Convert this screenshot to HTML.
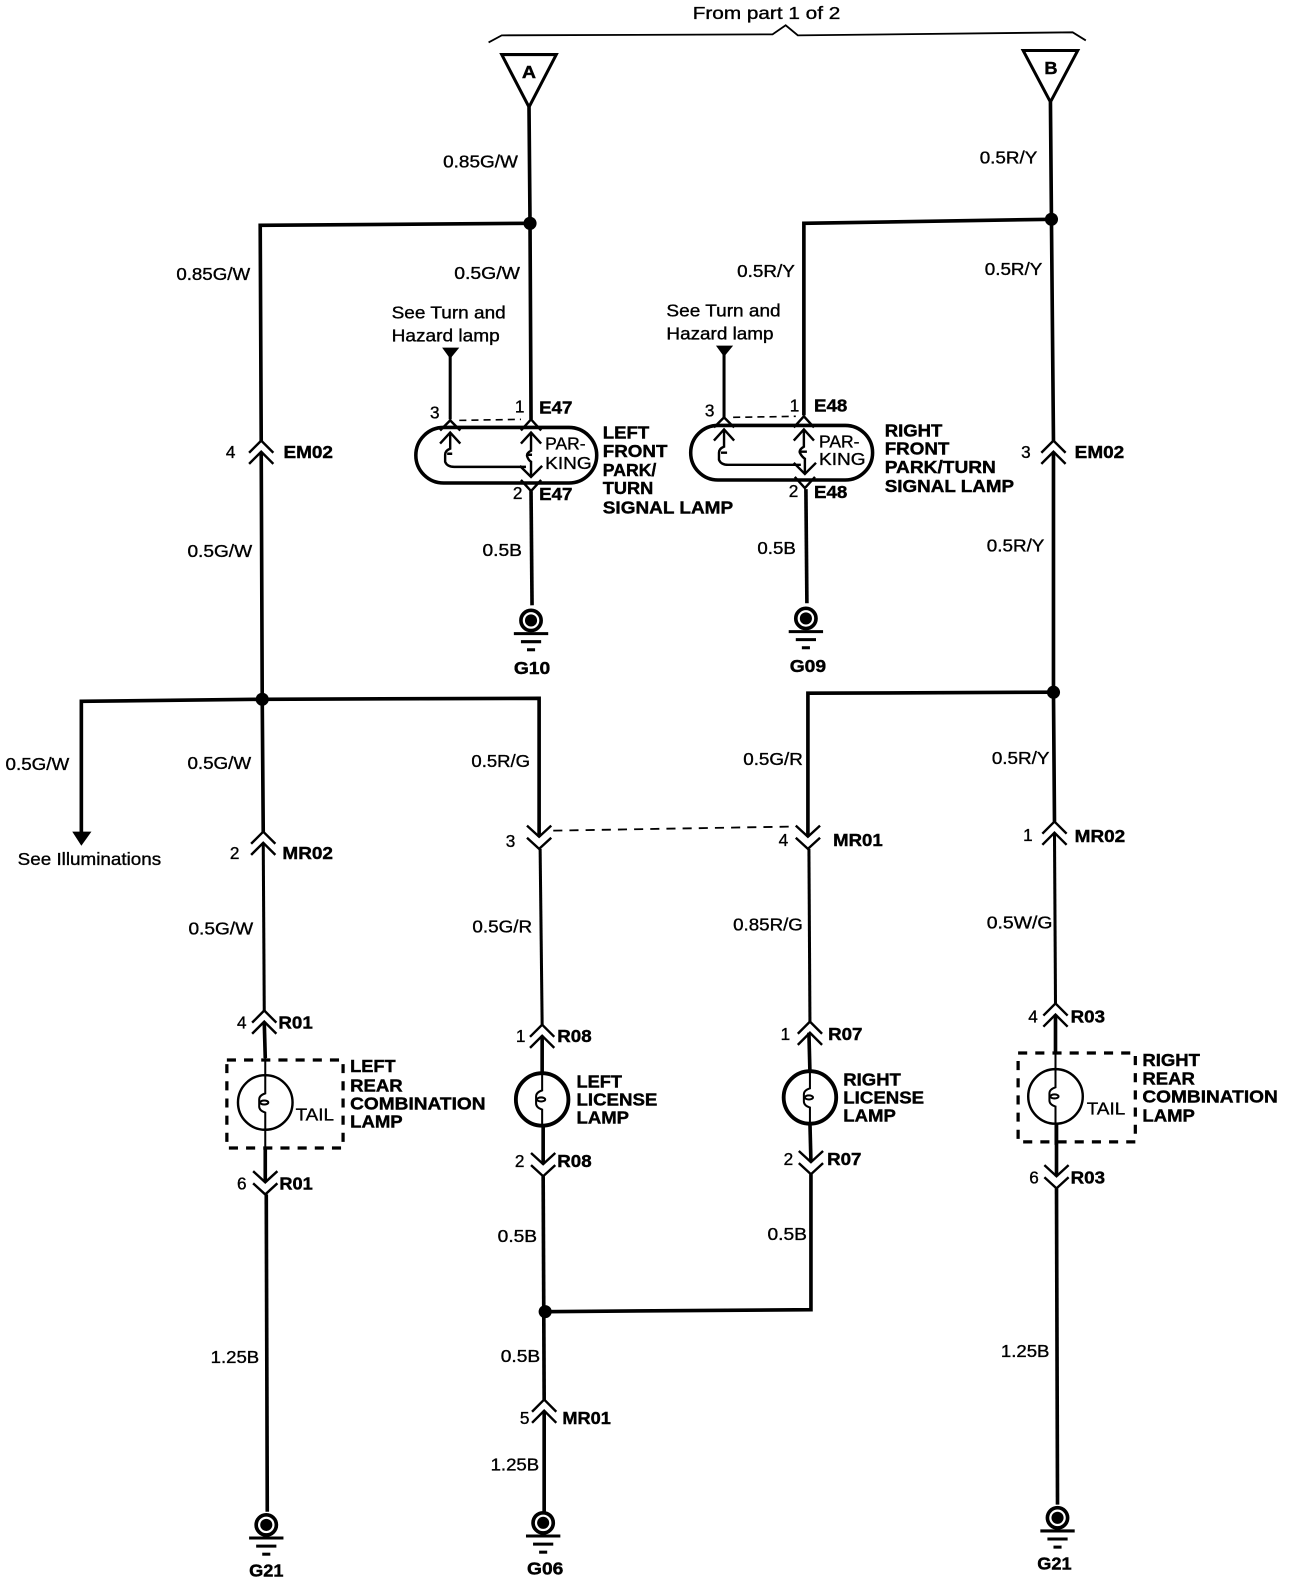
<!DOCTYPE html>
<html><head><meta charset="utf-8"><style>
html,body{margin:0;padding:0;background:#fff}
svg{display:block}
text{font-family:"Liberation Sans",sans-serif;fill:#000}
.r{font-size:17px;stroke:#000;stroke-width:.35px}
.b{font-size:17px;font-weight:bold;stroke:#000;stroke-width:.4px}
.w{fill:none;stroke:#000;stroke-width:3.6;stroke-linecap:butt;stroke-linejoin:miter}
.t{fill:none;stroke:#000;stroke-width:3}
.c{fill:none;stroke:#000;stroke-width:2.4}
</style></head><body>
<svg width="1296" height="1584" viewBox="0.5 1 1282.5 1567.5" xmlns="http://www.w3.org/2000/svg">
<defs>
<g id="up"><path class="c" d="M-12,10 L0,-2 L12,10 M-12,21 L0,9 L12,21"/></g>
<g id="dn"><path class="c" d="M-12,-8 L0,3 L12,-8 M-12,4 L0,15 L12,4"/></g>
<g id="gnd"><circle r="10" fill="none" stroke="#000" stroke-width="3.6"/><circle r="6" fill="#000"/>
<path d="M-17,13 H17 M-10,21 H10" stroke="#000" stroke-width="3" fill="none"/><path d="M-4,29 H4" stroke="#000" stroke-width="3"/></g>
<g id="fil"><path d="M0,-27 V-9 Q-6,-7 -6,-3 V4 Q-6,8 0,10 V27" fill="none" stroke="#000" stroke-width="2"/><ellipse cx="-1" cy="0" rx="4" ry="2" fill="none" stroke="#000" stroke-width="2"/></g>
</defs>

<!-- bracket -->
<path d="M484,43 L497,36 L765,35 L778,26 L790,36 L1062,33 L1075,41" fill="none" stroke="#000" stroke-width="1.8"/>
<text class="r" x="686" y="20" textLength="146" lengthAdjust="spacingAndGlyphs">From part 1 of 2</text>

<!-- triangles -->
<path d="M497,55 H551 L524,107 Z" fill="#fff" stroke="#000" stroke-width="3"/>
<path d="M1013,51 H1067 L1040,102 Z" fill="#fff" stroke="#000" stroke-width="3"/>
<text class="b" x="517" y="78" textLength="14" lengthAdjust="spacingAndGlyphs">A</text>
<text class="b" x="1034" y="74" textLength="13" lengthAdjust="spacingAndGlyphs">B</text>

<!-- wires left -->
<path class="w" d="M524,107 L525,222 L526,416"/>
<path class="w" d="M525,222 L258,224 L259,438"/>
<path class="w" d="M259,448 L260,693 L261,825"/>
<path class="w" d="M260,693 L81,695 L81,825"/>
<path d="M72,824 H91 L81,838 Z" fill="#000"/>
<path class="w" d="M260,693 L534,692 L534,829"/>
<path class="t" d="M261,835 L262,1001"/>
<path class="w" d="M262,1012 L263,1048"/>
<path class="w" d="M263,1138 V1171"/>
<path class="w" d="M264,1183 L265,1497"/>

<!-- middle -->
<path class="t" d="M535,841 L537,1015"/>
<path class="w" d="M537,1026 V1064"/>
<path class="w" d="M538,1114 V1153"/>
<path class="w" d="M538,1165 L539,1386"/>
<path class="w" d="M539,1397 V1497"/>
<path class="w" d="M540,1299 L803,1297 L803,1163"/>
<path class="w" d="M802,1112 L803,1151"/>
<path class="w" d="M801,1023 L802,1062"/>
<path class="t" d="M801,841 L802,1012"/>
<path class="w" d="M1043,686 L800,687 L800,829"/>

<!-- wires right -->
<path class="w" d="M1040,102 L1041,218 L1043,437"/>
<path class="w" d="M1041,218 L796,222 L796,412"/>
<path class="w" d="M1043,448 V686 L1044,814"/>
<path class="t" d="M1044,825 L1045,994"/>
<path class="w" d="M1045,1005 V1042"/>
<path class="w" d="M1046,1112 V1165"/>
<path class="w" d="M1046,1177 L1047,1490"/>

<!-- nodes -->
<circle cx="525" cy="222" r="6.5"/><circle cx="1041" cy="218" r="6.5"/>
<circle cx="260" cy="693" r="6.5"/><circle cx="1043" cy="686" r="6.5"/>
<circle cx="540" cy="1299" r="6.5"/>

<!-- connectors -->
<use href="#up" x="259" y="439"/><use href="#up" x="1043" y="439"/>
<use href="#up" x="261" y="826"/><use href="#up" x="1044" y="816"/>
<use href="#dn" x="534" y="826"/><use href="#dn" x="800" y="826"/>
<use href="#up" x="262" y="1003"/><use href="#up" x="537" y="1017"/>
<use href="#up" x="802" y="1014"/><use href="#up" x="1045" y="996"/>
<use href="#dn" x="263" y="1168"/><use href="#dn" x="538" y="1150"/>
<use href="#dn" x="803" y="1148"/><use href="#dn" x="1046" y="1162"/>
<use href="#up" x="539" y="1388"/>
<path d="M548,823 L782,819" fill="none" stroke="#000" stroke-width="1.8" stroke-dasharray="9,7"/>

<!-- left park lamp -->
<rect x="412" y="424" width="179" height="55" rx="27.5" fill="none" stroke="#000" stroke-width="3.5"/>
<path class="w" style="stroke-width:3" d="M446,348 V416"/>
<path d="M438,345 H455 L446,356 Z"/>
<path d="M455,417 L516,416" fill="none" stroke="#000" stroke-width="1.6" stroke-dasharray="7,5"/>
<path class="c" d="M436,427 L446,417 L456,427 M436,440 L446,429 L456,440 M516,427 L526,416 L536,427 M516,440 L526,429 L536,440"/>
<path class="c" d="M446,430 V445 Q441,447 441,451 V458 Q443,463 450,463 H521 M526,430 V447 Q522,449 522,452 Q523,456 526,458 V472 M443,450 H448 M521,451 H527"/>
<path class="c" d="M515,462 L526,473 L537,462 M516,476 L526,487 L536,476"/>
<path class="w" d="M526,487 L527,600"/>
<use href="#gnd" x="526" y="615"/>

<!-- right park lamp -->
<rect x="684" y="422" width="180" height="54" rx="27" fill="none" stroke="#000" stroke-width="3.5"/>
<path class="w" style="stroke-width:3" d="M717,346 V414"/>
<path d="M709,343 H726 L717,354 Z"/>
<path d="M726,414 L788,413" fill="none" stroke="#000" stroke-width="1.6" stroke-dasharray="7,5"/>
<path class="c" d="M707,424 L717,414 L727,424 M707,437 L717,426 L727,437 M786,424 L796,413 L806,424 M786,437 L796,426 L806,437"/>
<path class="c" d="M717,427 V443 Q712,445 712,449 V456 Q714,461 721,461 H793 M796,427 V443 Q791,446 792,449 Q794,453 797,455 V470 M714,449 H720 M792,448 H799"/>
<path class="c" d="M786,459 L797,470 L808,459 M787,473 L797,484 L807,473"/>
<path class="w" d="M798,485 L799,598"/>
<use href="#gnd" x="798" y="613"/>

<!-- rear and license lamps -->
<rect x="225" y="1050" width="115" height="87" fill="none" stroke="#000" stroke-width="3.2" stroke-dasharray="9,8"/>
<circle cx="263" cy="1092" r="27" fill="#fff" stroke="#000" stroke-width="2.4"/><use href="#fil" x="263" y="1092"/>
<path d="M263,1048 V1066 M263,1118 V1140" stroke="#000" stroke-width="2"/>
<rect x="1008" y="1043" width="116" height="88" fill="none" stroke="#000" stroke-width="3.2" stroke-dasharray="9,8"/>
<circle cx="1045" cy="1086" r="27" fill="#fff" stroke="#000" stroke-width="2.4"/><use href="#fil" x="1045" y="1086"/>
<path d="M1045,1042 V1060 M1045,1112 V1134" stroke="#000" stroke-width="2"/>
<circle cx="537" cy="1089" r="26" fill="#fff" stroke="#000" stroke-width="3.8"/><use href="#fil" x="537" y="1089"/>
<circle cx="802" cy="1087" r="26" fill="#fff" stroke="#000" stroke-width="3.8"/><use href="#fil" x="802" y="1087"/>

<use href="#gnd" x="264" y="1510"/><use href="#gnd" x="538" y="1508"/><use href="#gnd" x="1047" y="1503"/>

<!-- regular labels -->
<text class="r" x="439" y="167" textLength="74" lengthAdjust="spacingAndGlyphs">0.85G/W</text>
<text class="r" x="175" y="278" textLength="73" lengthAdjust="spacingAndGlyphs">0.85G/W</text>
<text class="r" x="450" y="277" textLength="65" lengthAdjust="spacingAndGlyphs">0.5G/W</text>
<text class="r" x="730" y="275" textLength="57" lengthAdjust="spacingAndGlyphs">0.5R/Y</text>
<text class="r" x="970" y="163" textLength="57" lengthAdjust="spacingAndGlyphs">0.5R/Y</text>
<text class="r" x="975" y="273" textLength="57" lengthAdjust="spacingAndGlyphs">0.5R/Y</text>
<text class="r" x="186" y="552" textLength="64" lengthAdjust="spacingAndGlyphs">0.5G/W</text>
<text class="r" x="478" y="551" textLength="39" lengthAdjust="spacingAndGlyphs">0.5B</text>
<text class="r" x="750" y="549" textLength="38" lengthAdjust="spacingAndGlyphs">0.5B</text>
<text class="r" x="977" y="547" textLength="57" lengthAdjust="spacingAndGlyphs">0.5R/Y</text>
<text class="r" x="6" y="763" textLength="63" lengthAdjust="spacingAndGlyphs">0.5G/W</text>
<text class="r" x="186" y="762" textLength="63" lengthAdjust="spacingAndGlyphs">0.5G/W</text>
<text class="r" x="467" y="760" textLength="58" lengthAdjust="spacingAndGlyphs">0.5R/G</text>
<text class="r" x="736" y="758" textLength="59" lengthAdjust="spacingAndGlyphs">0.5G/R</text>
<text class="r" x="982" y="757" textLength="57" lengthAdjust="spacingAndGlyphs">0.5R/Y</text>
<text class="r" x="18" y="857" textLength="142" lengthAdjust="spacingAndGlyphs">See Illuminations</text>
<text class="r" x="187" y="926" textLength="64" lengthAdjust="spacingAndGlyphs">0.5G/W</text>
<text class="r" x="468" y="924" textLength="59" lengthAdjust="spacingAndGlyphs">0.5G/R</text>
<text class="r" x="726" y="922" textLength="69" lengthAdjust="spacingAndGlyphs">0.85R/G</text>
<text class="r" x="977" y="920" textLength="65" lengthAdjust="spacingAndGlyphs">0.5W/G</text>
<text class="r" x="493" y="1230" textLength="39" lengthAdjust="spacingAndGlyphs">0.5B</text>
<text class="r" x="760" y="1228" textLength="39" lengthAdjust="spacingAndGlyphs">0.5B</text>
<text class="r" x="209" y="1350" textLength="48" lengthAdjust="spacingAndGlyphs">1.25B</text>
<text class="r" x="496" y="1349" textLength="39" lengthAdjust="spacingAndGlyphs">0.5B</text>
<text class="r" x="991" y="1344" textLength="48" lengthAdjust="spacingAndGlyphs">1.25B</text>
<text class="r" x="486" y="1456" textLength="48" lengthAdjust="spacingAndGlyphs">1.25B</text>
<text class="r" x="388" y="316" textLength="113" lengthAdjust="spacingAndGlyphs">See Turn and</text>
<text class="r" x="388" y="339" textLength="107" lengthAdjust="spacingAndGlyphs">Hazard lamp</text>
<text class="r" x="660" y="314" textLength="113" lengthAdjust="spacingAndGlyphs">See Turn and</text>
<text class="r" x="660" y="337" textLength="106" lengthAdjust="spacingAndGlyphs">Hazard lamp</text>
<text class="r" x="224" y="454">4</text><text class="r" x="426" y="415">3</text><text class="r" x="510" y="409">1</text>
<text class="r" x="508" y="495">2</text><text class="r" x="698" y="413">3</text><text class="r" x="782" y="408">1</text>
<text class="r" x="781" y="493">2</text><text class="r" x="1011" y="454">3</text><text class="r" x="228" y="851">2</text>
<text class="r" x="501" y="839">3</text><text class="r" x="771" y="838">4</text><text class="r" x="1013" y="833">1</text>
<text class="r" x="235" y="1019">4</text><text class="r" x="511" y="1032">1</text><text class="r" x="773" y="1030">1</text>
<text class="r" x="1018" y="1013">4</text><text class="r" x="235" y="1178">6</text><text class="r" x="510" y="1156">2</text>
<text class="r" x="776" y="1154">2</text><text class="r" x="1019" y="1172">6</text><text class="r" x="515" y="1410">5</text>
<text class="r" x="293" y="1110" textLength="38" lengthAdjust="spacingAndGlyphs">TAIL</text>
<text class="r" x="1076" y="1104" textLength="38" lengthAdjust="spacingAndGlyphs">TAIL</text>
<text class="r" x="540" y="446" textLength="40" lengthAdjust="spacingAndGlyphs">PAR-</text>
<text class="r" x="540" y="465" textLength="46" lengthAdjust="spacingAndGlyphs">KING</text>
<text class="r" x="811" y="444" textLength="40" lengthAdjust="spacingAndGlyphs">PAR-</text>
<text class="r" x="811" y="461" textLength="46" lengthAdjust="spacingAndGlyphs">KING</text>

<!-- bold labels -->
<text class="b" x="281" y="454" textLength="49" lengthAdjust="spacingAndGlyphs">EM02</text>
<text class="b" x="534" y="410" textLength="33" lengthAdjust="spacingAndGlyphs">E47</text>
<text class="b" x="534" y="496" textLength="33" lengthAdjust="spacingAndGlyphs">E47</text>
<text class="b" x="806" y="408" textLength="33" lengthAdjust="spacingAndGlyphs">E48</text>
<text class="b" x="806" y="494" textLength="33" lengthAdjust="spacingAndGlyphs">E48</text>
<text class="b" x="1064" y="454" textLength="49" lengthAdjust="spacingAndGlyphs">EM02</text>
<text class="b" x="280" y="851" textLength="50" lengthAdjust="spacingAndGlyphs">MR02</text>
<text class="b" x="825" y="838" textLength="49" lengthAdjust="spacingAndGlyphs">MR01</text>
<text class="b" x="1064" y="834" textLength="50" lengthAdjust="spacingAndGlyphs">MR02</text>
<text class="b" x="276" y="1019" textLength="34" lengthAdjust="spacingAndGlyphs">R01</text>
<text class="b" x="552" y="1032" textLength="34" lengthAdjust="spacingAndGlyphs">R08</text>
<text class="b" x="820" y="1030" textLength="34" lengthAdjust="spacingAndGlyphs">R07</text>
<text class="b" x="1060" y="1013" textLength="34" lengthAdjust="spacingAndGlyphs">R03</text>
<text class="b" x="277" y="1178" textLength="33" lengthAdjust="spacingAndGlyphs">R01</text>
<text class="b" x="552" y="1156" textLength="34" lengthAdjust="spacingAndGlyphs">R08</text>
<text class="b" x="819" y="1154" textLength="34" lengthAdjust="spacingAndGlyphs">R07</text>
<text class="b" x="1060" y="1172" textLength="34" lengthAdjust="spacingAndGlyphs">R03</text>
<text class="b" x="557" y="1410" textLength="48" lengthAdjust="spacingAndGlyphs">MR01</text>
<text class="b" x="509" y="668" textLength="36" lengthAdjust="spacingAndGlyphs">G10</text>
<text class="b" x="782" y="666" textLength="36" lengthAdjust="spacingAndGlyphs">G09</text>
<text class="b" x="247" y="1561" textLength="34" lengthAdjust="spacingAndGlyphs">G21</text>
<text class="b" x="522" y="1559" textLength="36" lengthAdjust="spacingAndGlyphs">G06</text>
<text class="b" x="1027" y="1554" textLength="34" lengthAdjust="spacingAndGlyphs">G21</text>

<text class="b" x="597" y="435" textLength="46" lengthAdjust="spacingAndGlyphs">LEFT</text>
<text class="b" x="597" y="453" textLength="64" lengthAdjust="spacingAndGlyphs">FRONT</text>
<text class="b" x="597" y="472" textLength="53" lengthAdjust="spacingAndGlyphs">PARK/</text>
<text class="b" x="597" y="490" textLength="50" lengthAdjust="spacingAndGlyphs">TURN</text>
<text class="b" x="597" y="509" textLength="129" lengthAdjust="spacingAndGlyphs">SIGNAL LAMP</text>
<text class="b" x="876" y="433" textLength="57" lengthAdjust="spacingAndGlyphs">RIGHT</text>
<text class="b" x="876" y="451" textLength="64" lengthAdjust="spacingAndGlyphs">FRONT</text>
<text class="b" x="876" y="469" textLength="110" lengthAdjust="spacingAndGlyphs">PARK/TURN</text>
<text class="b" x="876" y="488" textLength="128" lengthAdjust="spacingAndGlyphs">SIGNAL LAMP</text>
<text class="b" x="347" y="1062" textLength="45" lengthAdjust="spacingAndGlyphs">LEFT</text>
<text class="b" x="347" y="1081" textLength="52" lengthAdjust="spacingAndGlyphs">REAR</text>
<text class="b" x="347" y="1099" textLength="134" lengthAdjust="spacingAndGlyphs">COMBINATION</text>
<text class="b" x="347" y="1117" textLength="52" lengthAdjust="spacingAndGlyphs">LAMP</text>
<text class="b" x="1131" y="1056" textLength="57" lengthAdjust="spacingAndGlyphs">RIGHT</text>
<text class="b" x="1131" y="1074" textLength="52" lengthAdjust="spacingAndGlyphs">REAR</text>
<text class="b" x="1131" y="1092" textLength="134" lengthAdjust="spacingAndGlyphs">COMBINATION</text>
<text class="b" x="1131" y="1111" textLength="52" lengthAdjust="spacingAndGlyphs">LAMP</text>
<text class="b" x="571" y="1077" textLength="45" lengthAdjust="spacingAndGlyphs">LEFT</text>
<text class="b" x="571" y="1095" textLength="80" lengthAdjust="spacingAndGlyphs">LICENSE</text>
<text class="b" x="571" y="1113" textLength="52" lengthAdjust="spacingAndGlyphs">LAMP</text>
<text class="b" x="835" y="1075" textLength="57" lengthAdjust="spacingAndGlyphs">RIGHT</text>
<text class="b" x="835" y="1093" textLength="80" lengthAdjust="spacingAndGlyphs">LICENSE</text>
<text class="b" x="835" y="1111" textLength="52" lengthAdjust="spacingAndGlyphs">LAMP</text>
</svg>
</body></html>
